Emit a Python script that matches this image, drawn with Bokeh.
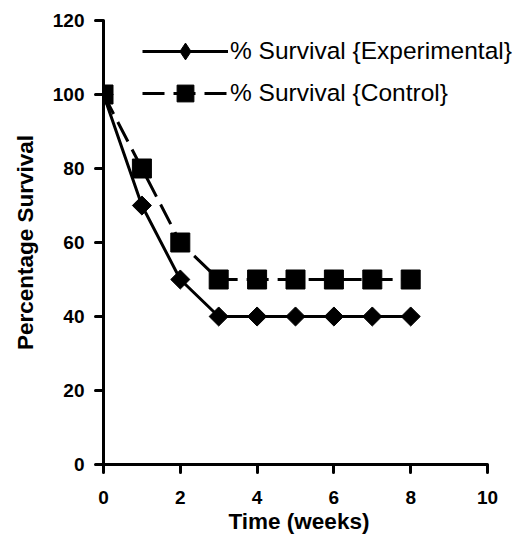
import math
from bokeh.plotting import figure
from bokeh.models import Range1d, Legend, LegendItem, FixedTicker, Title
from bokeh.embed import file_html
from bokeh.resources import INLINE

weeks = [0, 1, 2, 3, 4, 5, 6, 7, 8]
experimental = [100, 70, 50, 40, 40, 40, 40, 40, 40]
control = [100, 80, 60, 50, 50, 50, 50, 50, 50]
x_ticks = [0, 2, 4, 6, 8, 10]
y_ticks = [0, 20, 40, 60, 80, 100, 120]
x_title = "Time (weeks)"
y_title = "Percentage Survival"
label_exp = "% Survival {Experimental}"
label_ctl = "% Survival {Control}"

W, H = 516, 535
LEFT, TOP, AXIS_RIGHT, BOTTOM = 103, 20, 487, 464
x_end = 10 * (W - LEFT) / (AXIS_RIGHT - LEFT)   # frame extends past the axis end so the legend is not clipped

p = figure(width=W, height=H, output_backend="svg", toolbar_location=None,
           x_range=Range1d(0, x_end), y_range=Range1d(0, 120),
           min_border_left=LEFT, min_border_right=0, min_border_top=TOP,
           min_border_bottom=H - BOTTOM)
p.outline_line_color = None
p.xgrid.visible = False
p.ygrid.visible = False
p.background_fill_color = "white"
p.border_fill_color = "white"

FONT = "Liberation Sans"
for ax in (p.xaxis[0], p.yaxis[0]):
    ax.axis_line_width = 3
    ax.axis_line_color = "black"
    ax.major_tick_line_width = 3
    ax.major_tick_line_cap = "round"
    ax.major_tick_in = 0
    ax.major_tick_out = 8
    ax.minor_tick_line_color = None
    ax.major_label_text_font = FONT
    ax.major_label_text_font_style = "bold"
    ax.major_label_text_font_size = "19px"
    ax.major_label_text_color = "black"
    ax.axis_label_text_font = FONT
    ax.axis_label_text_font_style = "bold"
    ax.axis_label_text_font_size = "22.5px"
    ax.axis_label_text_color = "black"

p.xaxis.bounds = (0, 10)
p.xaxis.ticker = FixedTicker(ticks=x_ticks)
p.yaxis.ticker = FixedTicker(ticks=y_ticks)
p.yaxis.axis_label = y_title
p.xaxis.major_label_standoff = 18
p.yaxis.major_label_standoff = 11
p.yaxis.axis_label_standoff = 12

# x title centred under the 0..10 axis (the frame is wider than the axis)
p.add_layout(Title(text=x_title, align="left", offset=125, standoff=0,
                   text_font=FONT, text_font_style="bold", text_font_size="22.5px",
                   text_color="black"), "below")

l1 = p.line(weeks, experimental, line_color="black", line_width=3)
d1 = p.scatter(weeks, experimental, marker="diamond", size=17,
               fill_color="black", line_color="black")
m1 = p.scatter(weeks, experimental, marker="square", size=13.5, angle=math.pi / 4,
               fill_color="black", line_color="black")
l2 = p.line(weeks, control, line_color="black", line_width=3, line_dash="22 9")
m2 = p.scatter(weeks, control, marker="square", size=19,
               fill_color="black", line_color="black")

legend = Legend(items=[LegendItem(label=label_exp, renderers=[l1, d1]),
                       LegendItem(label=label_ctl, renderers=[l2, m2])],
                location=(39, 350), padding=0, margin=0, spacing=0,
                glyph_width=86, glyph_height=42, label_height=41, label_standoff=2,
                border_line_color=None, background_fill_alpha=0,
                label_text_font=FONT, label_text_font_size="24.5px", label_text_color="black")
p.add_layout(legend, "center")

open("out.html", "w").write(file_html(p, INLINE))
